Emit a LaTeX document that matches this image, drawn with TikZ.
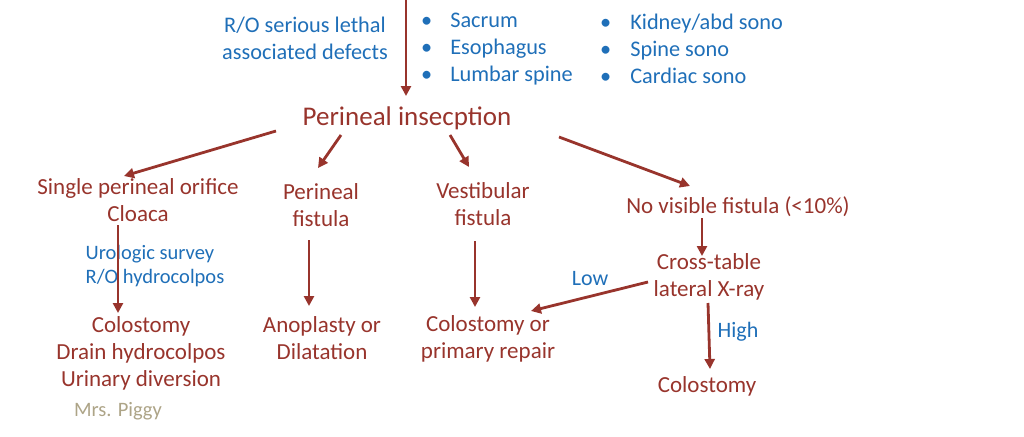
\documentclass[tikz,border=0pt]{standalone}
\usepackage{fontspec}
\setmainfont{Carlito}
\usetikzlibrary{arrows.meta}
\definecolor{dred}{HTML}{98342C}
\definecolor{oblue}{HTML}{1F6FB8}
\definecolor{piggy}{HTML}{ADA487}
\tikzset{
  rtxt/.style={text=dred, align=center, inner sep=0pt, font=\fontsize{23}{27}\selectfont},
  btxt/.style={text=oblue, align=center, inner sep=0pt, font=\fontsize{22.3}{27}\selectfont},
  stxt/.style={text=oblue, align=left, inner sep=0pt, font=\fontsize{20.5}{24}\selectfont},
  lbl/.style={text=oblue, inner sep=0pt, font=\fontsize{22}{26}\selectfont},
  arr/.style={draw=dred, line width=2.8pt, -{Triangle[length=10pt,width=10pt]}},
}
\begin{document}
\begin{tikzpicture}[x=1pt,y=-1pt]
\useasboundingbox (0,0) rectangle (1024,436);
% top annotations
\node[btxt] (ro) at (305,38) {R/O serious lethal\\associated defects};
\node[btxt, align=left, anchor=west] (b1) at (421,49) {•\hspace{18pt}Sacrum\\•\hspace{18pt}Esophagus\\•\hspace{18pt}Lumbar spine};
\node[btxt, align=left, anchor=west] (b2) at (600,49) {•\hspace{19pt}Kidney/abd sono\\•\hspace{19pt}Spine sono\\•\hspace{19pt}Cardiac sono};
\coordinate (top) at (406,0);
\node[rtxt, font=\fontsize{27}{30}\selectfont] (pi) at (407,118) {Perineal insecption};
\draw[arr] (top) -- (406,96);
% level 2
\node[rtxt] (spo) at (138,200) {Single perineal orifice\\Cloaca};
\node[rtxt] (pf) at (321,205) {Perineal\\fistula};
\node[rtxt] (vf) at (483,204) {Vestibular\\fistula};
\node[rtxt] (nvf) at (738,207) {No visible fistula (<10\%)};
\coordinate (pi1) at (276,131);
\coordinate (pi2) at (341,135);
\coordinate (pi3) at (450,135);
\coordinate (pi4) at (559,137);
\draw[arr] (pi1) -- (124,176);
\draw[arr] (pi2) -- (318,168);
\draw[arr] (pi3) -- (469,167);
\draw[arr] (pi4) -- (690,186);
% level 3
\node[stxt] (uro) at (155,266) {Urologic survey\\R/O hydrocolpos};
\node[rtxt] (col1) at (141,353) {Colostomy\\Drain hydrocolpos\\Urinary diversion};
\node[text=piggy, inner sep=0pt, font=\fontsize{20.5}{24}\selectfont] (mp) at (118,411) {Mrs. Piggy};
\node[rtxt] (ano) at (322,338) {Anoplasty or\\Dilatation};
\node[rtxt] (colpr) at (488,339) {Colostomy or\\primary repair};
\node[rtxt] (ct) at (709,277) {Cross-table\\lateral X-ray};
\node[rtxt] (col2) at (707,386) {Colostomy};
\draw[arr] (118,225) -- (118,313);
\draw[arr] (309,240) -- (309,306);
\draw[arr] (475,241) -- (475,307);
\draw[arr] (702,218) -- (702,256);
\draw[arr] (648,282) -- (531,311);
\draw[arr] (708,303) -- (710,369);
\node[lbl] (low) at (590,279) {Low};
\node[lbl] (high) at (738,332) {High};
\end{tikzpicture}
\end{document}
